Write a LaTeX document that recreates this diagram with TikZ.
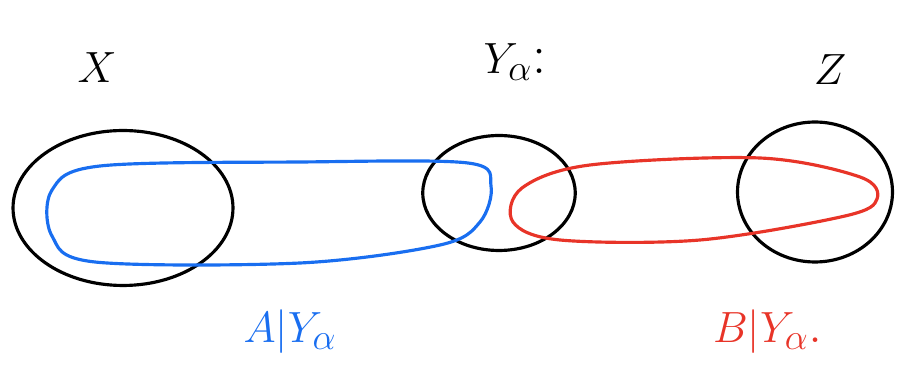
\documentclass[tikz,border=0pt]{standalone}
\usepackage{tikz}
\usetikzlibrary{shapes.geometric}
\definecolor{penblue}{RGB}{25,110,240}
\definecolor{penred}{RGB}{232,52,40}

\begin{document}
\begin{tikzpicture}[
    x=0.02cm, y=-0.02cm,
    blob/.style={ellipse, draw=black, line width=1.8pt, inner sep=0pt},
    lbl/.style={font=\fontsize{32}{36}\selectfont, inner sep=0pt},
    loop/.style={line width=1.8pt}
]
\useasboundingbox (0,0) rectangle (913,374);
% the three sets
\node[blob, minimum width=4.4cm, minimum height=3.1cm] at (123,208) (X) {};
\node[blob, minimum width=3.05cm, minimum height=2.3cm] at (499,193) (Y) {};
\node[blob, minimum width=3.1cm, minimum height=2.8cm] at (815,192) (Z) {};
\node[lbl] at (97,68) (xlab) {$X$};
\node[lbl] at (515,62) (ylab) {$Y_\alpha$:};
\node[lbl] at (830,70) (zlab) {$Z$};
% conditional parts
\draw[loop, penblue] plot[smooth cycle, tension=0.55] coordinates {
  (100,166) (300,162) (468,163) (491,186) (480,222) (440,245)
  (300,263) (95,262) (52,236) (52,190)};
\draw[loop, penred] plot[smooth cycle, tension=0.55] coordinates {
  (590,165) (760,158) (860,177) (877,199) (845,216)
  (700,240) (560,240) (513,222) (522,188)};
\node[lbl, text=penblue] at (290,332) (alab) {$A|Y_\alpha$};
\node[lbl, text=penred] at (768,332) (blab) {$B|Y_\alpha$.};
\end{tikzpicture}
\end{document}
